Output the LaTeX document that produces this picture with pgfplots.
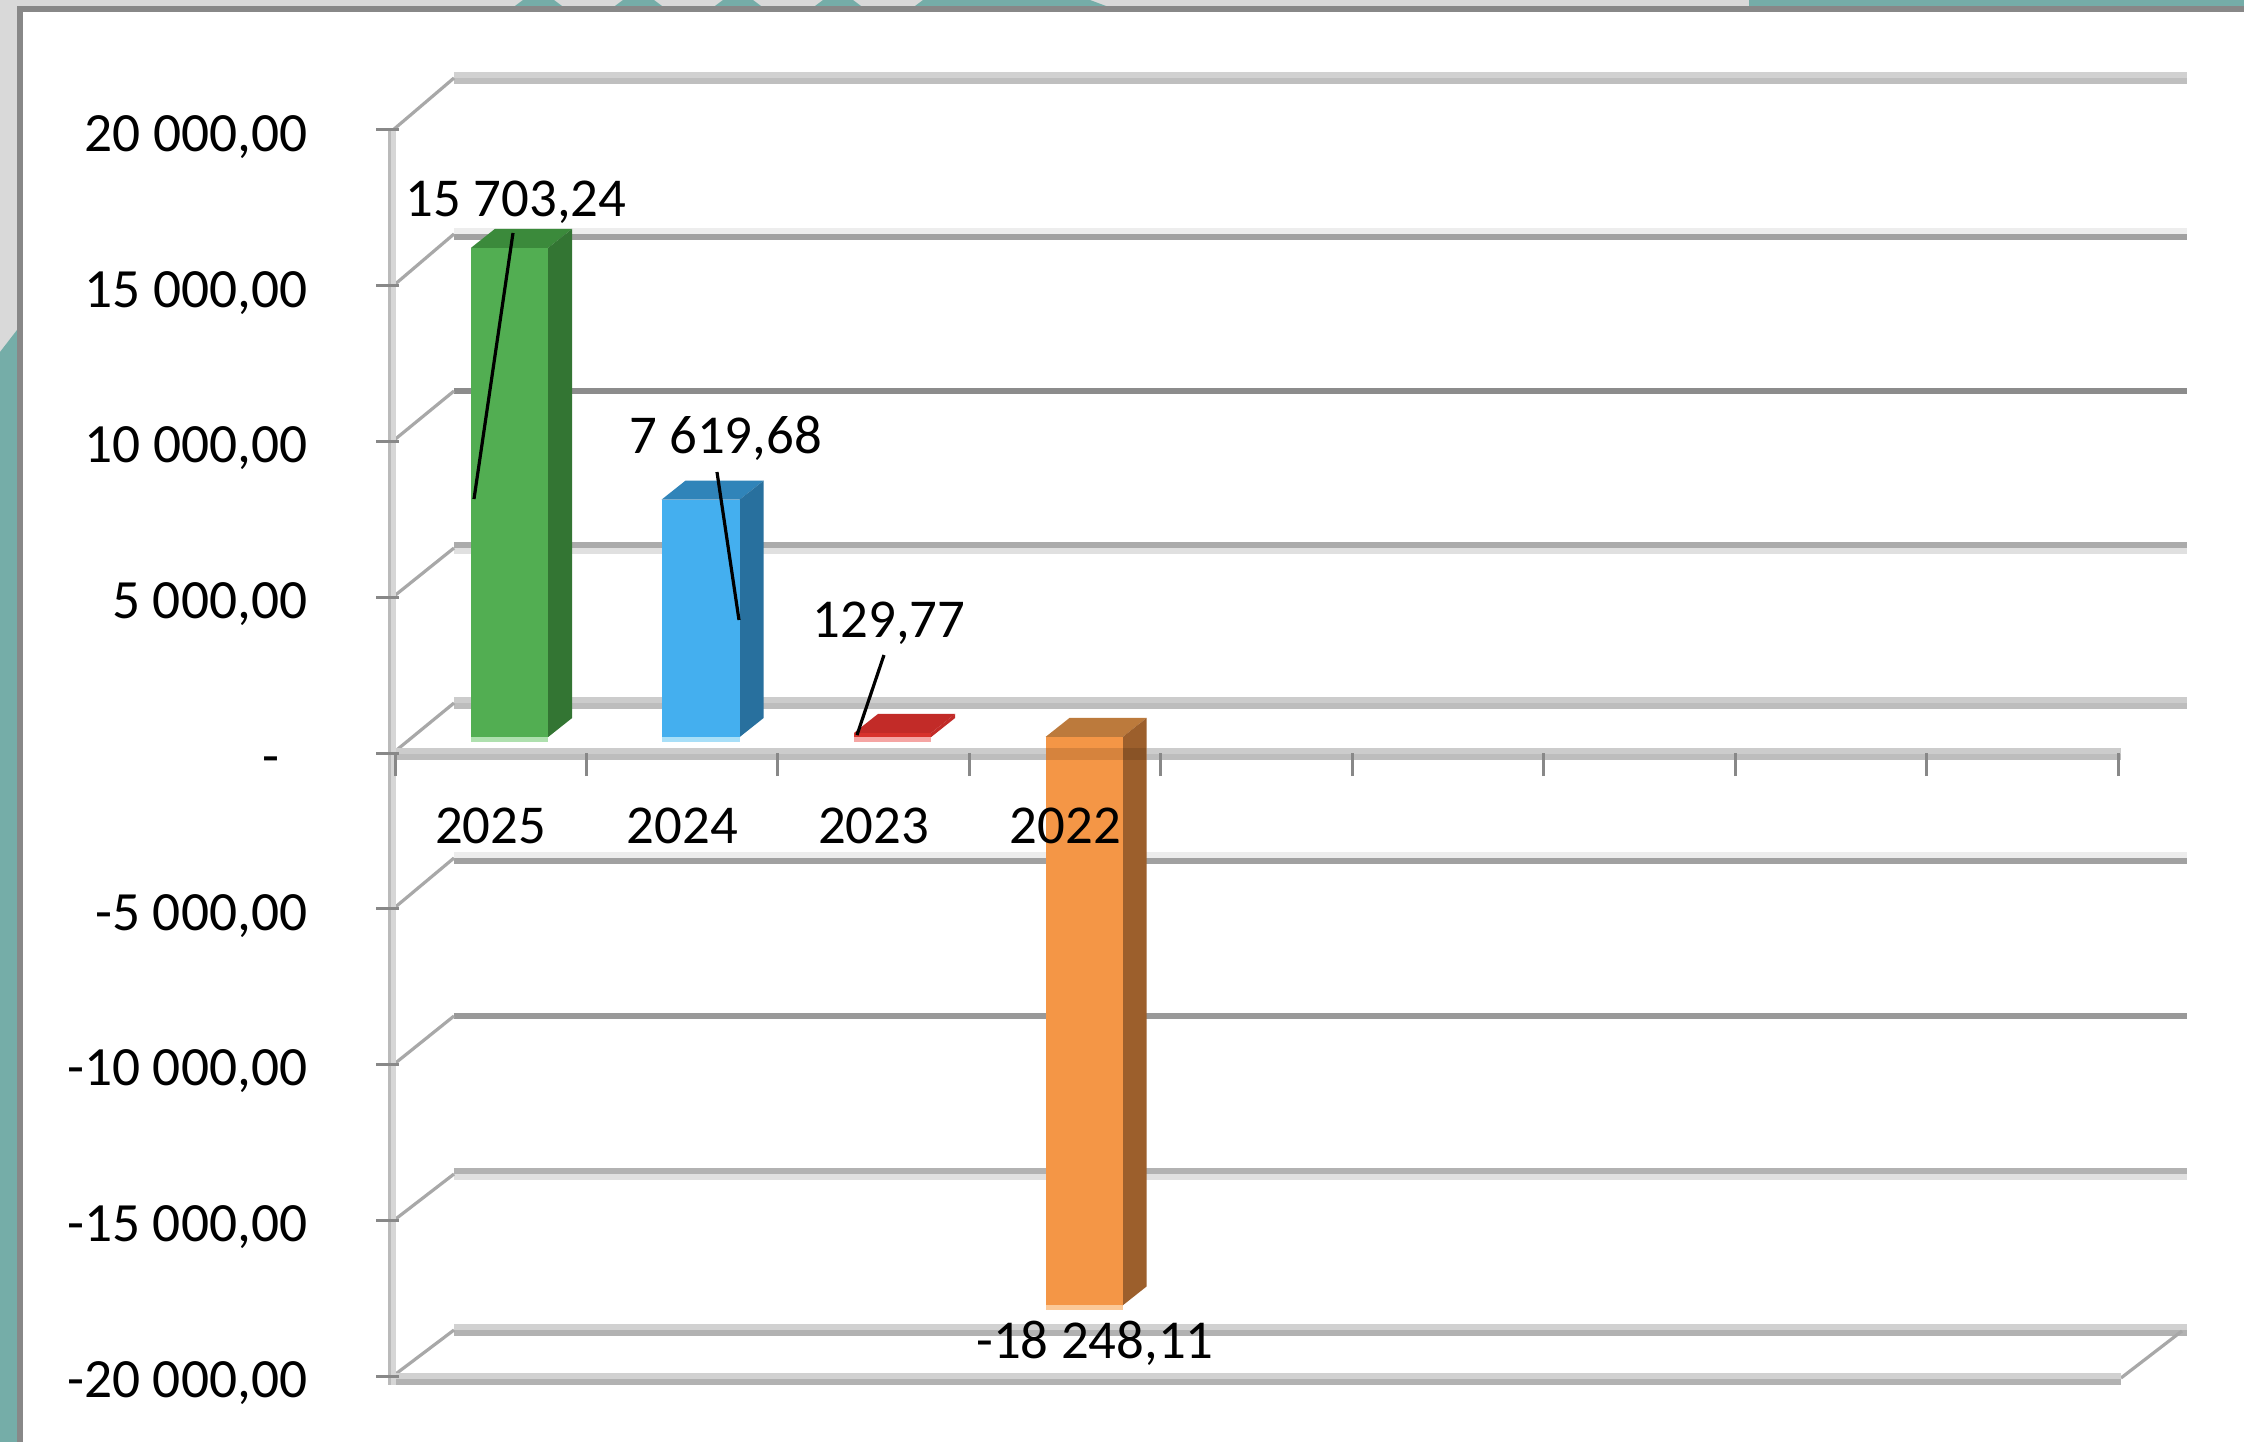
\documentclass[border=0pt]{standalone}
\usepackage{fontspec}
\setmainfont{Carlito}
\usepackage{pgfplots}
\pgfplotsset{compat=1.18}

\definecolor{framegray}{HTML}{888888}
\definecolor{outergray}{HTML}{D9D9D9}
\definecolor{bgteal}{HTML}{75ADA8}
\definecolor{tickgray}{HTML}{888888}
\definecolor{diaggray}{HTML}{A8A8A8}
\definecolor{gfront}{HTML}{52AE52}
\definecolor{gtop}{HTML}{3B8A3B}
\definecolor{gside}{HTML}{337533}
\definecolor{glight}{HTML}{AEE0AE}
\definecolor{bfront}{HTML}{44AFEF}
\definecolor{btop}{HTML}{3084B9}
\definecolor{bside}{HTML}{28709E}
\definecolor{blight}{HTML}{A8DFF8}
\definecolor{rfront}{HTML}{D8322C}
\definecolor{rtop}{HTML}{C22B28}
\definecolor{rlight}{HTML}{F5A5A3}
\definecolor{ofront}{HTML}{F49646}
\definecolor{otop}{HTML}{BC7A3C}
\definecolor{oside}{HTML}{9C5F2C}
\definecolor{olight}{HTML}{FBC998}

% scale: 1 image pixel = 0.25pt, 1 px = 32.103 data units
\newcommand{\pxtoy}[1]{(753-(#1))*32.103}
\newcommand{\pxtox}[1]{((#1)-395)/191.5}
% large numbers overflow plain pgfmath, so go through the fpu
\newcommand{\fpcalc}[2]{\begingroup\pgfkeys{/pgf/fpu=true,/pgf/fpu/output format=fixed}\pgfmathparse{#2}\global\let#1\pgfmathresult\endgroup}

% horizontal two-tone rule, y given in pixels
\newcommand{\wallrule}[5]{%
  \fpcalc{\xa}{\pxtox{#1}}\fpcalc{\xb}{\pxtox{#2}}%
  \fpcalc{\ya}{\pxtoy{#3-3}}\fpcalc{\yb}{\pxtoy{#3+3}}%
  \addplot[forget plot,draw={#4},line width=1.5pt] coordinates {(\xa,\ya) (\xb,\ya)};
  \addplot[forget plot,draw={#5},line width=1.5pt] coordinates {(\xa,\yb) (\xb,\yb)};
}
% depth diagonal from the tick to the back wall
\newcommand{\depthline}[4]{%
  \fpcalc{\xa}{\pxtox{#1}}\fpcalc{\xb}{\pxtox{#3}}%
  \fpcalc{\ya}{\pxtoy{#2}}\fpcalc{\yb}{\pxtoy{#4}}%
  \addplot[forget plot,draw=diaggray,line width=0.8pt] coordinates {(\xa,\ya) (\xb,\yb)};
}
% one 3D column: left x, right x, value, front, top, side, light strip
\newcommand{\threedbar}[7]{%
  \fpcalc{\lo}{min(0,#3)+514}\fpcalc{\hi}{max(0,#3)+514}%
  \fpcalc{\lob}{\lo-160}\fpcalc{\hib}{\hi+610}\fpcalc{\lod}{\lo+610}%
  \fpcalc{\xc}{#2+0.125}\fpcalc{\xd}{#1+0.125}%
  \addplot[forget plot,fill={#7},draw=none] coordinates {(#1,\lob) (#2,\lob) (#2,\lo) (#1,\lo)} --cycle;
  \addplot[forget plot,fill={#5},draw=none] coordinates {(#1,\hi) (#2,\hi) (\xc,\hib) (\xd,\hib)} --cycle;
  \addplot[forget plot,fill={#6},draw=none] coordinates {(#2,\lo) (\xc,\lod) (\xc,\hib) (#2,\hi)} --cycle;
  \addplot[forget plot,fill={#4},draw=none] coordinates {(#1,\lo) (#2,\lo) (#2,\hi) (#1,\hi)} --cycle;
}
\newcommand{\leader}[4]{%
  \fpcalc{\xa}{\pxtox{#1}}\fpcalc{\xb}{\pxtox{#3}}%
  \fpcalc{\ya}{\pxtoy{#2}}\fpcalc{\yb}{\pxtoy{#4}}%
  \addplot[forget plot,draw=black,line width=0.8pt] coordinates {(\xa,\ya) (\xb,\yb)};
}
\tikzset{chartlabel/.style={font=\fontsize{13.7}{14}\selectfont,inner sep=0pt,text height=8.7pt,text depth=0pt}}

\begin{document}
\begin{tikzpicture}
  % page furniture, in image pixels with y downwards
  \begin{scope}[x=0.25pt,y=-0.25pt]
    \useasboundingbox (0,0) rectangle (2244,1442);
    \fill[white] (0,0) rectangle (2244,1442);
    \fill[outergray] (0,0) rectangle (2244,9);
    \fill[outergray] (0,0) rectangle (17,360);
    \fill[bgteal] (0,352) -- (17,330) -- (17,1442) -- (0,1442) -- cycle;
    \foreach \a/\b in {515/562,615/662,715/761,815/861} {
      \fill[bgteal] (\a,6) -- (\a+8,0) -- (\b-8,0) -- (\b,6) -- cycle;
    }
    \fill[bgteal] (915,6) -- (923,0) -- (1090,0) -- (1106,6) -- cycle;
    \fill[bgteal] (1749,0) rectangle (2244,6);
    \fill[framegray] (17,6) rectangle (2244,12);
    \fill[framegray] (17,6) rectangle (23,1442);
  \end{scope}
  \begin{axis}[
      at={(98.75pt,-344pt)}, anchor=south west,
      scale only axis, width=448pt, height=311.5pt,
      xmin=0, xmax=9.358, ymin=-20000, ymax=20000,
      clip=false, axis on top,
      axis x line=middle, axis y line=left,
      axis line style={draw=none},
      hide obscured x ticks=false, hide obscured y ticks=false,
      scaled ticks=false,
      tick align=outside, major tick length=5.75pt,
      tick style={draw=tickgray,line width=0.75pt},
      y tick style={xshift=1pt},
      xtick={0,1,2,3,4,5,6,7,8,9},
      x tick label as interval,
      xticklabels={2025,2024,2023,2022,,,,,},
      ytick={-20000,-15000,-10000,-5000,0,5000,10000,15000,20000},
      yticklabels={{-20 000,00},{-15 000,00},{-10 000,00},{-5 000,00},{-\rule{7pt}{0pt}},{5 000,00},{10 000,00},{15 000,00},{20 000,00}},
      tick label style={chartlabel},
      y tick label style={anchor=east,xshift=-16pt,yshift=-1pt,font=\fontsize{13.85}{14}\selectfont},
      x tick label style={anchor=center,yshift=-12.6pt},
    ]
    % walls
    \wallrule{454}{2187}{78}{black!18}{black!25}
    \wallrule{454}{2187}{234}{black!7}{black!37}
    \wallrule{454}{2187}{388}{white}{black!45}
    \wallrule{454}{2187}{548}{black!33}{black!12}
    \wallrule{454}{2187}{703}{black!20}{black!26}
    \wallrule{454}{2187}{858}{black!7}{black!37}
    \wallrule{454}{2187}{1013}{white}{black!40}
    \wallrule{454}{2187}{1174}{black!30}{black!12}
    \wallrule{454}{2187}{1330}{black!18}{black!30}
    \depthline{393}{130}{454}{78}
    \depthline{393}{286}{454}{234}
    \depthline{393}{441}{454}{391}
    \depthline{393}{597}{454}{548}
    \depthline{393}{753}{454}{703}
    \depthline{393}{909}{454}{858}
    \depthline{393}{1065}{454}{1016}
    \depthline{393}{1221}{454}{1174}
    \depthline{393}{1376}{454}{1330}
    \depthline{2121}{1378}{2182}{1331}
    % front axis rules
    \wallrule{395}{2121}{1379}{black!18}{black!30}
    \wallrule{395}{2121}{754}{black!20}{black!26}
    % y axis
    \addplot[forget plot,draw=black!27,line width=1.4pt] coordinates {(-0.0235,20000) (-0.0235,-20300)};
    \addplot[forget plot,draw=black!16,line width=1.4pt] coordinates {(-0.0085,20000) (-0.0085,-20300)};
    % columns
    \threedbar{0.397}{0.800}{15703.24}{gfront}{gtop}{gside}{glight}
    \threedbar{1.392}{1.800}{7619.68}{bfront}{btop}{bside}{blight}
    \threedbar{2.397}{2.800}{129.77}{rfront}{rtop}{rtop}{rlight}
    \threedbar{3.397}{3.800}{-18248.11}{ofront}{otop}{oside}{olight}
    % zero rule seen through the orange column
    \addplot[forget plot,draw=black,opacity=0.12,line width=3pt] coordinates {(3.397,-30) (3.92,-30)};
    % data labels and leaders
    \node[chartlabel] at (axis cs:0.632,17785) {15 703,24};
    \node[chartlabel] at (axis cs:1.726,10177) {7 619,68};
    \node[chartlabel] at (axis cs:2.58,4270) {129,77};
    \node[chartlabel] at (axis cs:3.655,-18876) {-18 248,11};
    \leader{513}{233}{474}{499}
    \leader{717}{472}{739}{620}
    \leader{884}{655}{857}{735}
  \end{axis}
\end{tikzpicture}
\end{document}
